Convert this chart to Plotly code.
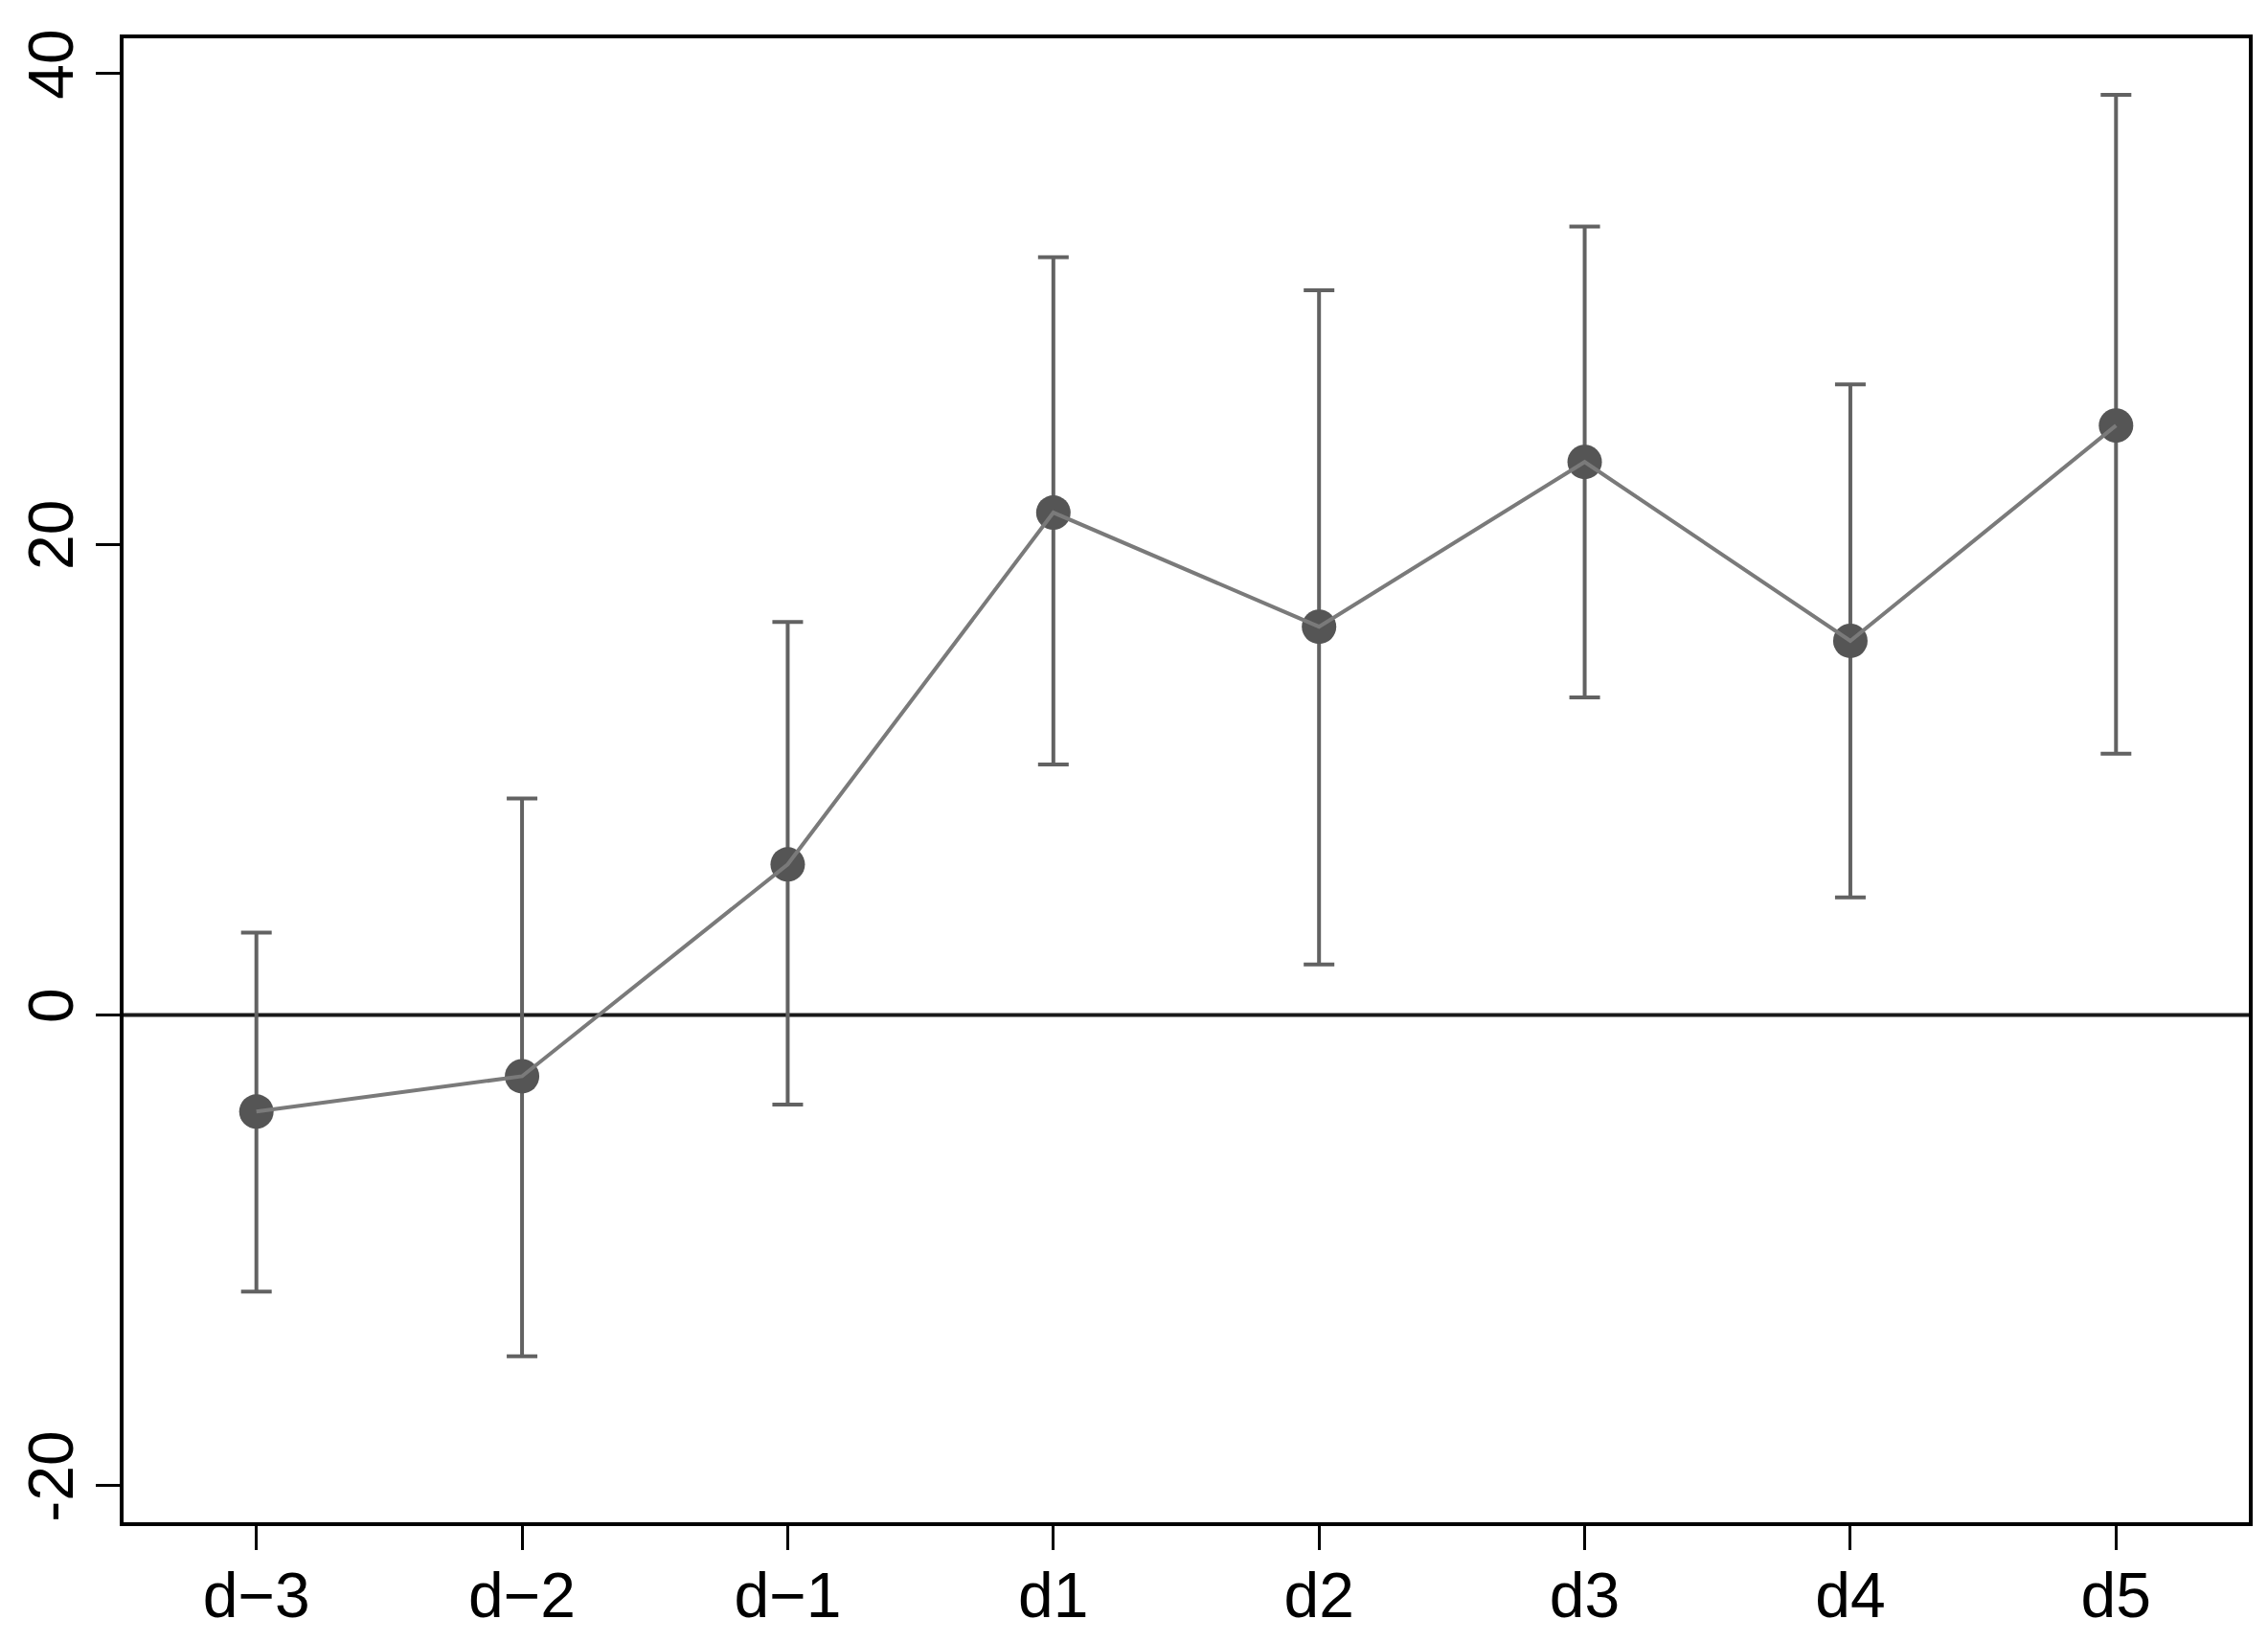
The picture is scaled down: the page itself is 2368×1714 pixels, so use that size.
import plotly.graph_objects as go

categories = ["d\u22123", "d\u22122", "d\u22121", "d1", "d2", "d3", "d4", "d5"]
estimates = [-4.1, -2.6, 6.4, 21.35, 16.5, 23.5, 15.9, 25.05]
upper_ci = [3.5, 9.2, 16.7, 32.2, 30.8, 33.5, 26.8, 39.1]
lower_ci = [-11.75, -14.5, -3.8, 10.65, 2.15, 13.5, 5.0, 11.1]
y_ticks = [-20, 0, 20, 40]

err_plus = [u - e for u, e in zip(upper_ci, estimates)]
err_minus = [e - l for e, l in zip(estimates, lower_ci)]

FONT = "Liberation Sans, Arial, sans-serif"

fig = go.Figure()

fig.add_hline(y=0, line=dict(color="#1a1a1a", width=4), layer="below")

fig.add_trace(go.Scatter(
    x=categories, y=estimates, mode="markers",
    marker=dict(size=36, color="#555555", line=dict(width=0)),
    error_y=dict(type="data", symmetric=False, array=err_plus, arrayminus=err_minus,
                 color="#626262", thickness=4, width=16),
    showlegend=False,
))
fig.add_trace(go.Scatter(
    x=categories, y=estimates, mode="lines",
    line=dict(color="#7a7a7a", width=4),
    showlegend=False,
))

fig.update_layout(
    width=2368, height=1714,
    margin=dict(l=129, r=20, t=40, b=125),
    paper_bgcolor="white", plot_bgcolor="white",
    font=dict(family=FONT, size=66, color="black"),
)
fig.update_xaxes(
    type="category", range=[-0.5, 7.5], automargin=False,
    showline=True, linecolor="black", linewidth=4, mirror=True,
    ticks="outside", ticklen=25, tickwidth=2.5, tickcolor="black",
    showgrid=False, zeroline=False,
    tickfont=dict(family=FONT, size=66, color="black"),
    ticklabelstandoff=-9,
)
fig.update_yaxes(
    range=[-21.55, 41.5], tickvals=y_ticks, ticktext=[str(v) for v in y_ticks],
    automargin=False,
    showline=True, linecolor="black", linewidth=4, mirror=True,
    ticks="outside", ticklen=25, tickwidth=2.5, tickcolor="black",
    showgrid=False, zeroline=False, tickangle=-90,
    tickfont=dict(family=FONT, size=66, color="black"),
    ticklabelstandoff=-2,
)

fig.write_html(
    "out.html",
    config={"displayModeBar": False},
    post_script="document.body.style.margin='0';document.body.style.overflow='hidden';",
)
